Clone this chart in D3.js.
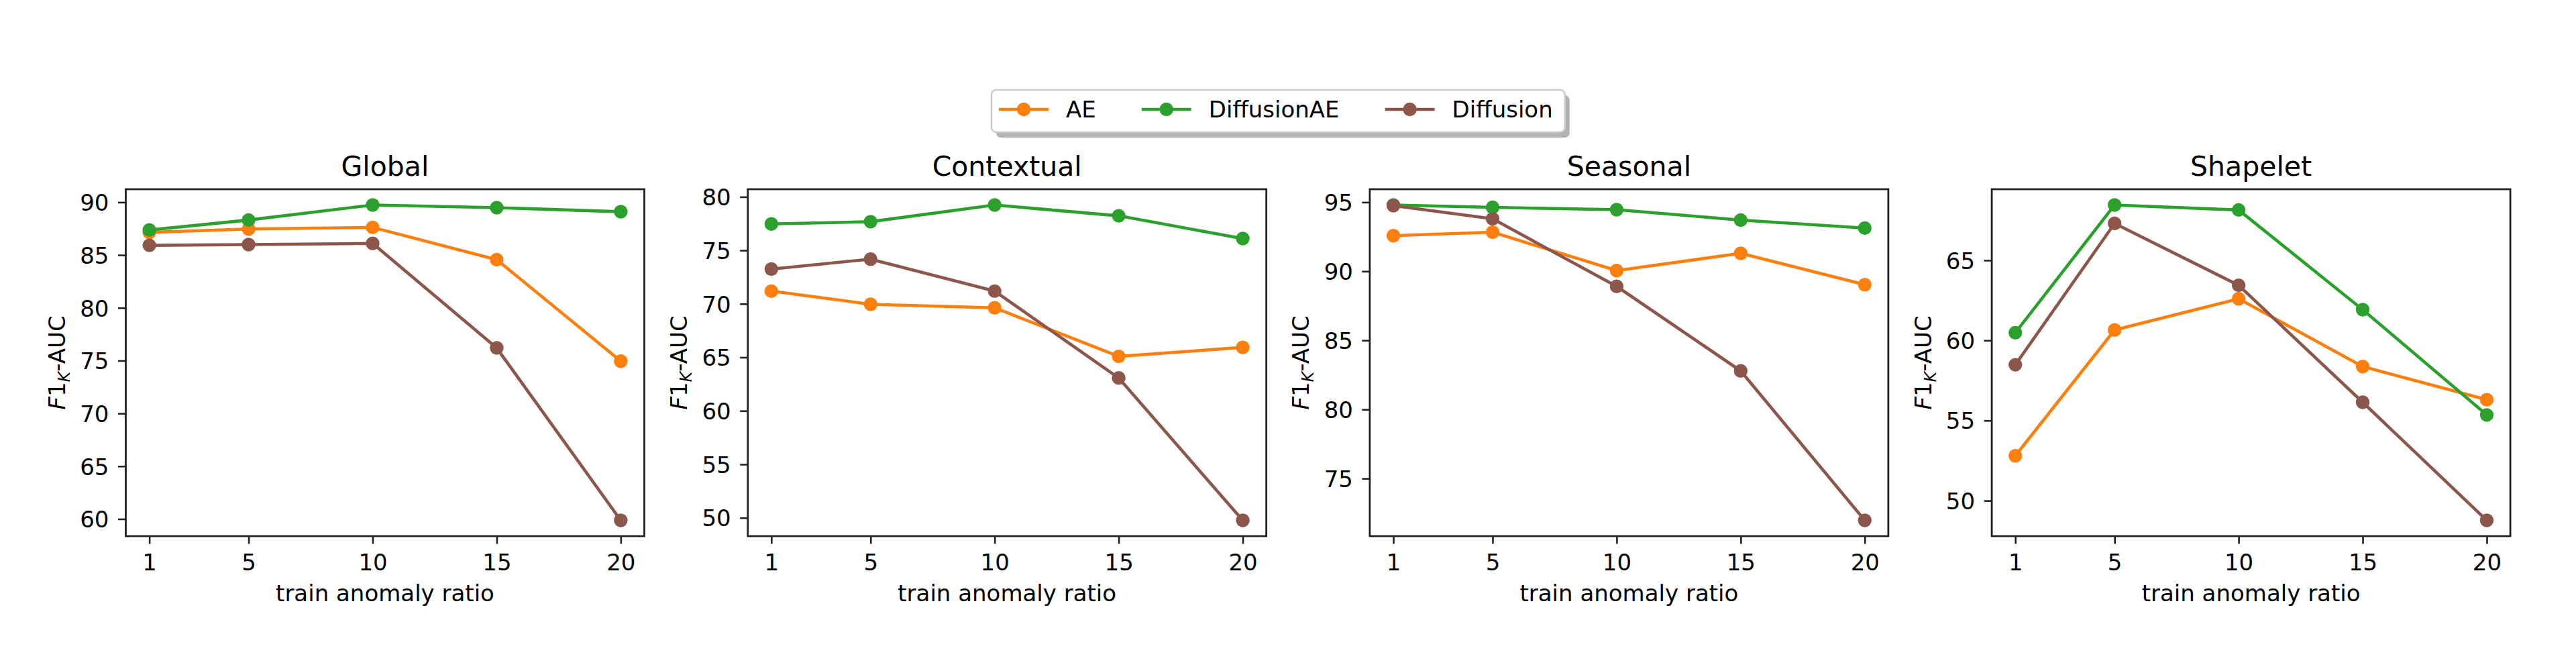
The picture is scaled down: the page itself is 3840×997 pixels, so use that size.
<!DOCTYPE html>
<html>
<head>
<meta charset="utf-8">
<script src="https://cdn.jsdelivr.net/npm/d3@7/dist/d3.min.js"></script>
<style>
  html, body { margin: 0; padding: 0; background: #fff; }
  text { font-family: "DejaVu Sans", sans-serif; fill: #000; }
</style>
</head>
<body>
<svg id="chart" width="3840" height="997"></svg>
<script>
// ---------- data ----------
const ratios = [1, 5, 10, 15, 20];
const panelTitles = ["Global", "Contextual", "Seasonal", "Shapelet"];
const seriesNames = ["AE", "DiffusionAE", "Diffusion"];
const seriesColors = ["#ff7f0e", "#2ca02c", "#8c564b"];

const aeValues = [
  [87.15, 87.47, 87.62, 84.56, 74.95],
  [71.19, 69.96, 69.63, 65.09, 65.93],
  [92.58, 92.83, 90.05, 91.30, 89.03],
  [52.80, 60.65, 62.60, 58.37, 56.30]
];
const diffusionAEValues = [
  [87.37, 88.32, 89.74, 89.49, 89.10],
  [77.47, 77.68, 79.24, 78.23, 76.10],
  [94.80, 94.63, 94.46, 93.71, 93.13],
  [60.48, 68.45, 68.14, 61.92, 55.35]
];
const diffusionValues = [
  [85.92, 85.99, 86.10, 76.20, 59.87],
  [73.25, 74.18, 71.19, 63.07, 49.76],
  [94.75, 93.80, 88.91, 82.79, 71.97],
  [58.48, 67.30, 63.44, 56.14, 48.77]
];
const yTickValues = [
  [60, 65, 70, 75, 80, 85, 90],
  [50, 55, 60, 65, 70, 75, 80],
  [75, 80, 85, 90, 95],
  [50, 55, 60, 65]
];
const xLabelText = "train anomaly ratio";

// ---------- layout ----------
const svg = d3.select("#chart");
svg.append("rect").attr("width", 3840).attr("height", 997).attr("fill", "#fff");

const FS = 34;           // tick / label font size
const TFS = 41;          // title font size
const panelLeft0 = 187.5, panelStep = 927.2, panelW = 773;
const panelTop = 282, panelBottom = 799;
const tickLen = 11.5;
const spineColor = "#222";
const allSeries = [aeValues, diffusionAEValues, diffusionValues];

panelTitles.forEach((title, p) => {
  const left = panelLeft0 + p * panelStep;
  const g = svg.append("g").attr("transform", `translate(${left},0)`);

  const x = d3.scaleLinear()
    .domain([ratios[0] - 0.05 * (ratios[4] - ratios[0]), ratios[4] + 0.05 * (ratios[4] - ratios[0])])
    .range([0, panelW]);
  const vals = allSeries.flatMap(s => s[p]);
  const mn = d3.min(vals), mx = d3.max(vals), pad = 0.05 * (mx - mn);
  const y = d3.scaleLinear().domain([mn - pad, mx + pad]).range([panelBottom, panelTop]);

  // axes (D3 axes, styled)
  const xAxis = d3.axisBottom(x).tickValues(ratios).tickSize(tickLen).tickPadding(0).tickFormat(d3.format("d"));
  const gx = g.append("g").attr("transform", `translate(0,${panelBottom})`).call(xAxis);
  gx.select(".domain").remove();
  gx.selectAll(".tick line").attr("stroke", spineColor).attr("stroke-width", 2.6);
  gx.selectAll(".tick text").attr("font-size", FS).attr("font-family", "DejaVu Sans")
    .attr("fill", "#000").attr("y", 51).attr("dy", null);

  const yAxis = d3.axisLeft(y).tickValues(yTickValues[p]).tickSize(tickLen).tickPadding(0).tickFormat(d3.format("d"));
  const gy = g.append("g").call(yAxis);
  gy.select(".domain").remove();
  gy.selectAll(".tick line").attr("stroke", spineColor).attr("stroke-width", 2.6);
  gy.selectAll(".tick text").attr("font-size", FS).attr("font-family", "DejaVu Sans")
    .attr("fill", "#000").attr("x", -25).attr("dy", "0.36em");

  // lines and markers
  const line = d3.line().x((d, i) => x(ratios[i])).y(d => y(d));
  allSeries.forEach((s, k) => {
    g.append("path").datum(s[p]).attr("d", line)
      .attr("fill", "none").attr("stroke", seriesColors[k]).attr("stroke-width", 4.6)
      .attr("stroke-linejoin", "round").attr("stroke-linecap", "square");
    g.selectAll(null).data(s[p]).enter().append("circle")
      .attr("cx", (d, i) => x(ratios[i])).attr("cy", d => y(d)).attr("r", 10.2)
      .attr("fill", seriesColors[k]);
  });

  // frame
  g.append("rect").attr("x", 0).attr("y", panelTop).attr("width", panelW).attr("height", panelBottom - panelTop)
    .attr("fill", "none").attr("stroke", spineColor).attr("stroke-width", 2.8);

  // title
  g.append("text").attr("x", panelW / 2).attr("y", 262).attr("text-anchor", "middle")
    .attr("font-size", TFS).text(title);

  // x label
  g.append("text").attr("x", panelW / 2).attr("y", 896).attr("text-anchor", "middle")
    .attr("font-size", FS).text(xLabelText);

  // y label: F1_K-AUC
  const cy = (panelTop + panelBottom) / 2;
  const yl = g.append("text").attr("transform", `translate(-90.5,${cy}) rotate(-90)`)
    .attr("text-anchor", "middle").attr("font-size", FS);
  yl.append("tspan").attr("font-style", "italic").text("F");
  yl.append("tspan").text("1");
  yl.append("tspan").attr("font-style", "italic").attr("font-size", 24).attr("dy", 7).text("K");
  yl.append("tspan").attr("dy", -7).text("-AUC");
});

// ---------- legend ----------
const leg = svg.append("g");
const legTop = 134, legBottom = 197, legLeft = 1478;
const shadow = leg.append("rect");
const box = leg.append("rect");
let cx = 1489;
const legY = 163;
const items = leg.append("g");
seriesNames.forEach((name, k) => {
  items.append("line").attr("x1", cx).attr("x2", cx + 74).attr("y1", legY).attr("y2", legY)
    .attr("stroke", seriesColors[k]).attr("stroke-width", 4.6);
  items.append("circle").attr("cx", cx + 37).attr("cy", legY).attr("r", 10.2).attr("fill", seriesColors[k]);
  const t = items.append("text").attr("x", cx + 100).attr("y", 175).attr("font-size", FS).text(name);
  const w = t.node().getComputedTextLength();
  cx = cx + 100 + w + (k < seriesNames.length - 1 ? 68 : 0);
});
const legRight = cx + 18;
shadow.attr("x", legLeft + 7).attr("y", legTop + 8).attr("width", legRight - legLeft).attr("height", legBottom - legTop)
  .attr("rx", 7).attr("fill", "#000").attr("fill-opacity", 0.3);
box.attr("x", legLeft).attr("y", legTop).attr("width", legRight - legLeft).attr("height", legBottom - legTop)
  .attr("rx", 7).attr("fill", "#fff").attr("stroke", "#cccccc").attr("stroke-width", 2.5);
</script>
</body>
</html>
